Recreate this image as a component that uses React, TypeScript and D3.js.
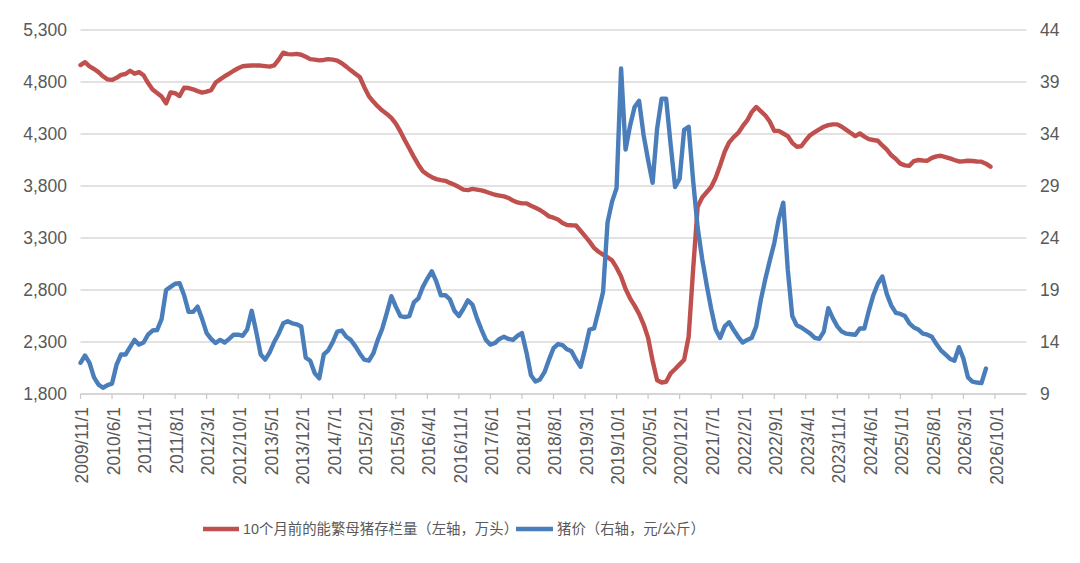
import React from 'react';
import * as d3 from 'd3';

// ---- Data ----
const startYear = 2009;
const startMonth = 11;
const xDomainMonths = 210; // axis spans 2009/11 .. 2027/5

const xTickLabels = [
  '2009/11/1', '2010/6/1', '2011/1/1', '2011/8/1', '2012/3/1', '2012/10/1',
  '2013/5/1', '2013/12/1', '2014/7/1', '2015/2/1', '2015/9/1', '2016/4/1',
  '2016/11/1', '2017/6/1', '2018/1/1', '2018/8/1', '2019/3/1', '2019/10/1',
  '2020/5/1', '2020/12/1', '2021/7/1', '2022/2/1', '2022/9/1', '2023/4/1',
  '2023/11/1', '2024/6/1', '2025/1/1', '2025/8/1', '2026/3/1', '2026/10/1',
];

const leftTicks = [1800, 2300, 2800, 3300, 3800, 4300, 4800, 5300];
const rightTicks = [9, 14, 19, 24, 29, 34, 39, 44];

const seriesNames = ['10个月前的能繁母猪存栏量（左轴，万头）', '猪价（右轴，元/公斤）'];

// monthly, starting 2009/11
const sowInventory = [
  4963, 4990, 4950, 4925, 4895, 4855, 4825, 4820, 4840, 4868,
  4877, 4908, 4880, 4895, 4865, 4790, 4728, 4695, 4660, 4595,
  4700, 4692, 4665, 4745, 4742, 4730, 4712, 4698, 4708, 4722,
  4795, 4825, 4855, 4880, 4908, 4932, 4952, 4956, 4958, 4960,
  4958, 4953, 4948, 4960, 5015, 5082, 5068, 5066, 5070, 5062,
  5042, 5020, 5015, 5008, 5012, 5020, 5015, 5005, 4980, 4948,
  4912, 4880, 4848, 4750, 4665, 4612, 4565, 4525, 4493, 4455,
  4400, 4325, 4240, 4160, 4080, 4005, 3942, 3910, 3885, 3866,
  3857, 3850, 3830, 3812, 3790, 3765, 3760, 3772, 3765, 3758,
  3745, 3730, 3716, 3708, 3700, 3685, 3660, 3642, 3633, 3633,
  3610, 3590, 3569, 3540, 3508, 3495, 3478, 3445, 3425, 3422,
  3420, 3370, 3318, 3265, 3205, 3168, 3140, 3115, 3085, 3015,
  2930, 2810, 2720, 2650, 2570, 2470, 2340, 2120, 1932, 1910,
  1918, 1998, 2040, 2085, 2130, 2350, 3000, 3600, 3690, 3740,
  3790, 3880, 4000, 4130, 4220, 4270, 4310, 4375, 4430, 4510,
  4560, 4520, 4480, 4420, 4330, 4330, 4305, 4280, 4215, 4178,
  4182, 4240, 4290, 4318, 4345, 4370, 4385, 4393, 4393, 4370,
  4340, 4310, 4280, 4306, 4275, 4250, 4242, 4235, 4190, 4150,
  4095, 4060, 4015, 3998, 3995, 4040, 4050, 4045, 4043, 4070,
  4085, 4091, 4078, 4066, 4050, 4036, 4038, 4043, 4040, 4036,
  4034, 4015, 3986,
];

const hogPrice = [
  12.0, 12.7, 12.0, 10.6, 9.9, 9.6, 9.85, 10.0, 11.8, 12.8,
  12.8, 13.5, 14.2, 13.75, 13.95, 14.7, 15.1, 15.15, 16.2, 19.0,
  19.3, 19.6, 19.65, 18.5, 16.9, 16.9, 17.4, 16.2, 14.85, 14.3,
  13.9, 14.2, 13.95, 14.3, 14.7, 14.7, 14.6, 15.2, 17.0, 15.0,
  12.8, 12.3, 13.0, 14.0, 14.8, 15.8, 16.0, 15.8, 15.7, 15.5,
  12.5, 12.2, 11.0, 10.5, 12.8, 13.2, 14.0, 15.0, 15.1, 14.5,
  14.2, 13.6, 12.9, 12.3, 12.2, 12.9, 14.2, 15.3, 16.8, 18.4,
  17.4, 16.5, 16.4, 16.5, 17.8, 18.2, 19.3, 20.1, 20.8, 19.8,
  18.5, 18.5, 18.1, 17.0, 16.5, 17.2, 18.0, 17.6, 16.3, 15.2,
  14.2, 13.75, 13.9, 14.3, 14.5, 14.3, 14.2, 14.6, 14.85, 13.0,
  10.8, 10.2, 10.4, 11.1, 12.3, 13.4, 13.8, 13.7, 13.3, 13.1,
  12.3, 11.6, 13.3, 15.2, 15.3, 17.0, 18.8, 25.5, 27.5, 28.8,
  40.3, 32.5, 34.8, 36.6, 37.2, 33.9, 31.5, 29.3, 34.5, 37.4,
  37.4, 33.0, 28.9, 29.7, 34.4, 34.7, 29.5, 25.0, 22.0, 19.5,
  17.2, 15.2, 14.4, 15.5, 15.9, 15.15, 14.5, 13.95, 14.2, 14.4,
  15.5, 18.0, 20.0, 21.8, 23.5, 25.8, 27.4, 21.0, 16.5, 15.6,
  15.4, 15.1, 14.8, 14.4, 14.3, 15.0, 17.25, 16.3, 15.5, 15.0,
  14.8, 14.75, 14.7, 15.3, 15.3, 17.0, 18.5, 19.6, 20.3, 18.6,
  17.5, 16.8, 16.7, 16.5, 15.8, 15.4, 15.2, 14.8, 14.7, 14.5,
  13.8, 13.2, 12.8, 12.4, 12.2, 13.5, 12.4, 10.6, 10.2, 10.1,
  10.05, 11.45,
];

// ---- Layout / style ----
const W = 1080;
const H = 563;
const plot = { left: 80.5, right: 1026.5, top: 30, bottom: 394 };
const RED = '#C0504D';
const BLUE = '#4A7EBB';
const GRID = '#D9D9D9';
const TEXT = '#595959';
const FONT = "'Liberation Sans', Arial, 'Noto Sans CJK SC', sans-serif";

function labelIndex(label: string): number {
  const [y, m] = label.split('/').map(Number);
  return (y - startYear) * 12 + (m - startMonth);
}

export default function App() {
  const x = d3.scaleLinear().domain([0, xDomainMonths]).range([plot.left, plot.right]);
  const yL = d3.scaleLinear().domain([1800, 5300]).range([plot.bottom, plot.top]);
  const yR = d3.scaleLinear().domain([9, 44]).range([plot.bottom, plot.top]);

  const lineL = d3
    .line<number>()
    .x((_, i) => x(i))
    .y((d) => yL(d));
  const lineR = d3
    .line<number>()
    .x((_, i) => x(i))
    .y((d) => yR(d));

  const fmt = d3.format(',');

  return (
    <svg
      width={W}
      height={H}
      viewBox={`0 0 ${W} ${H}`}
      style={{ position: 'absolute', left: 0, top: 0, background: '#fff' }}
      fontFamily={FONT}
    >
      <rect width={W} height={H} fill="#fff" />
      {/* grid lines */}
      {leftTicks.map((t) => (
        <line
          key={'g' + t}
          x1={plot.left}
          x2={plot.right}
          y1={yL(t)}
          y2={yL(t)}
          stroke={t === 1800 ? '#C8C8C8' : GRID}
          strokeWidth={1.4}
        />
      ))}
      {/* left axis labels */}
      {leftTicks.map((t) => (
        <text
          key={'l' + t}
          x={67}
          y={yL(t)}
          dy="0.36em"
          textAnchor="end"
          fontSize={17.5}
          fill={TEXT}
        >
          {fmt(t)}
        </text>
      ))}
      {/* right axis labels */}
      {rightTicks.map((t) => (
        <text
          key={'r' + t}
          x={1040}
          y={yR(t)}
          dy="0.36em"
          textAnchor="start"
          fontSize={17.5}
          fill={TEXT}
        >
          {t}
        </text>
      ))}
      {/* x ticks and labels */}
      {xTickLabels.map((lab) => {
        const xi = x(labelIndex(lab));
        return (
          <g key={lab}>
            <line x1={xi} x2={xi} y1={plot.bottom} y2={plot.bottom + 5} stroke="#C8C8C8" strokeWidth={1.2} />
            <text
              transform={`translate(${xi + 1.5},${plot.bottom + 13}) rotate(-90)`}
              dy="0.36em"
              textAnchor="end"
              fontSize={17.5}
              fill={TEXT}
            >
              {lab}
            </text>
          </g>
        );
      })}
      {/* series */}
      <path
        d={lineL(sowInventory) ?? ''}
        fill="none"
        stroke={RED}
        strokeWidth={4.4}
        strokeLinejoin="round"
        strokeLinecap="round"
      />
      <path
        d={lineR(hogPrice) ?? ''}
        fill="none"
        stroke={BLUE}
        strokeWidth={4.4}
        strokeLinejoin="round"
        strokeLinecap="round"
      />
      {/* legend */}
      <g>
        <line x1={203} x2={239} y1={529} y2={529} stroke={RED} strokeWidth={4.4} />
        <text x={243} y={529} dy="0.36em" fontSize={14.4} fill={TEXT}>
          {seriesNames[0]}
        </text>
        <line x1={516} x2={553} y1={529} y2={529} stroke={BLUE} strokeWidth={4.4} />
        <text x={557} y={529} dy="0.36em" fontSize={14.4} fill={TEXT}>
          {seriesNames[1]}
        </text>
      </g>
    </svg>
  );
}
